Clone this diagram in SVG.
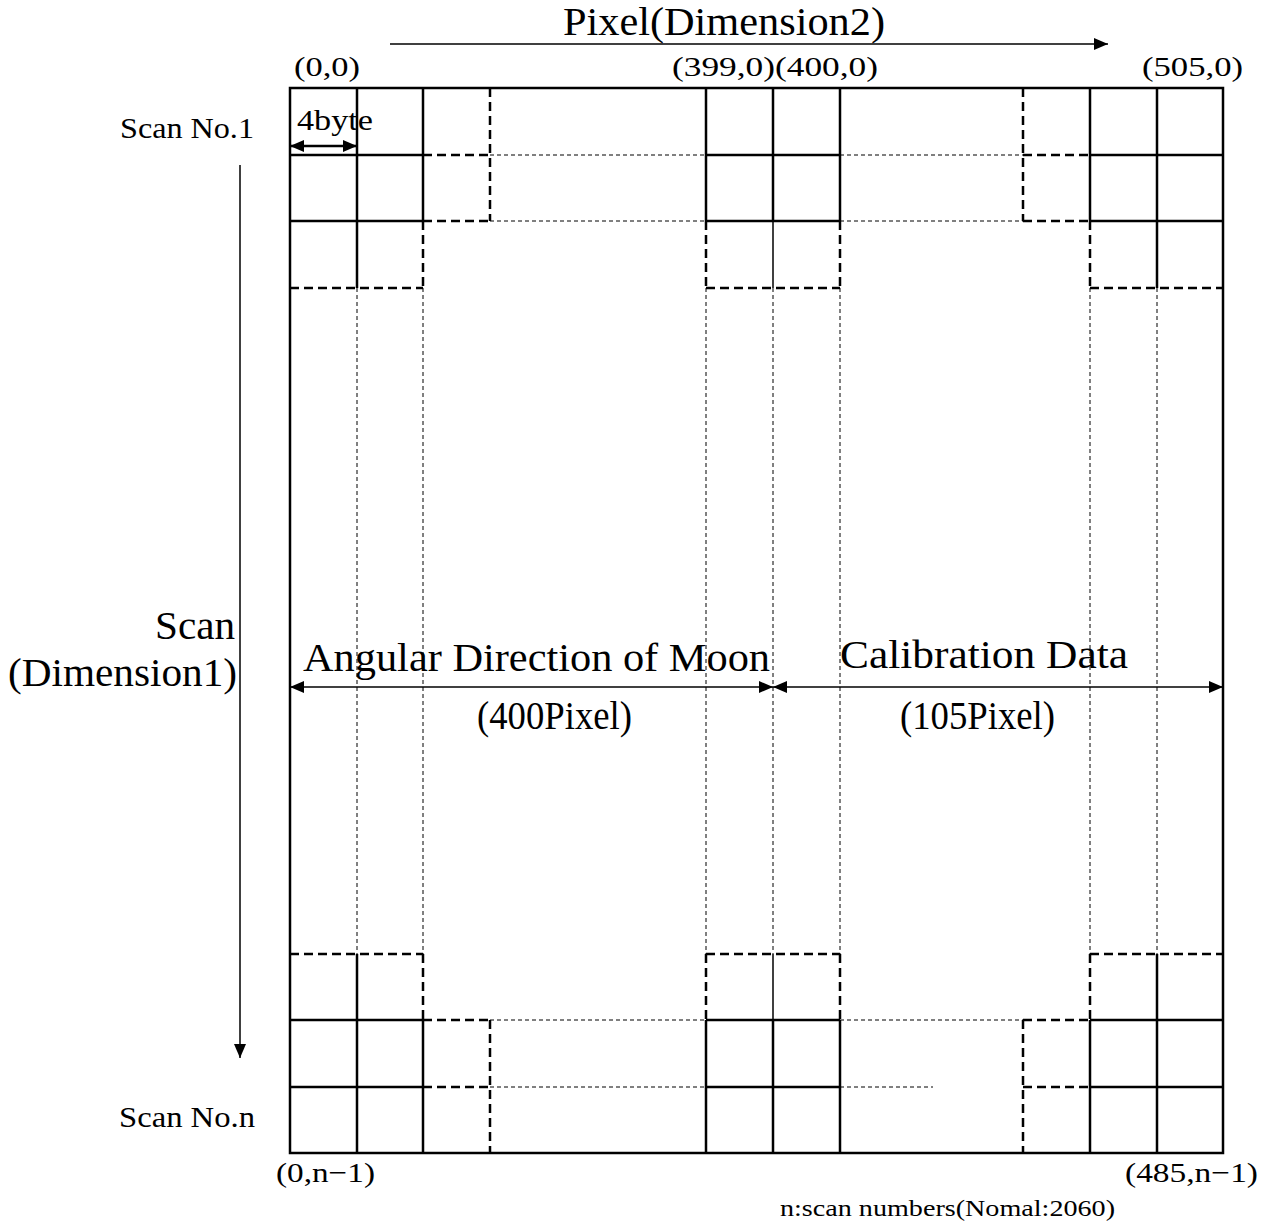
<svg xmlns="http://www.w3.org/2000/svg" width="1271" height="1225" viewBox="0 0 1271 1225">
<style>
.t{font-family:"Liberation Serif","DejaVu Serif",serif;fill:#000}
.big{font-size:41px}
.mid{font-size:28px}
.sm{font-size:29px}
.xs{font-size:24px}
.solid{stroke:#000;stroke-width:2.5;fill:none}
.sthin{stroke:#000;stroke-width:1.5;fill:none}
.dash{stroke:#000;stroke-width:2.5;fill:none;stroke-dasharray:9 5}
.guide{stroke:#000;stroke-width:1;fill:none;stroke-dasharray:4 3}
.arr{stroke:#000;stroke-width:1.5;fill:none}
.arr2{stroke:#000;stroke-width:2.5;fill:none}
</style>
<defs>
<marker id="ah" markerUnits="userSpaceOnUse" markerWidth="14" markerHeight="12" refX="14" refY="6" orient="auto-start-reverse">
<path d="M0,0 L14,6 L0,12 Z" fill="#000"/>
</marker>
</defs>
<rect width="1271" height="1225" fill="#fff"/>

<g id="frame">
<rect x="290" y="88" width="933" height="1065" class="solid"/>
</g>

<g id="guides">
<path class="guide" d="M490,155H706M840,155H1023M490,221H706M840,221H1023M490,1020H706M840,1020H1023M490,1087H706M840,1087H933"/>
<path class="guide" d="M357,288V954M423,288V954M706,288V954M773,288V954M840,288V954M1090,288V954M1157,288V954"/>
</g>

<g id="cells-top-left">
<path class="solid" d="M290,155H423M290,221H423M357,88V288M423,88V221"/>
<path class="dash" d="M423,221V288M290,288H423M490,88V221M423,155H490M423,221H490"/>
</g>

<g id="cells-top-mid">
<path class="solid" d="M706,155H840M706,221H840M706,88V221M773,88V221M840,88V221"/>
<path class="sthin" d="M773,221V288"/>
<path class="dash" d="M706,221V288M840,221V288M706,288H840"/>
</g>

<g id="cells-top-right">
<path class="solid" d="M1090,155H1223M1090,221H1223M1090,88V221M1157,88V288"/>
<path class="dash" d="M1023,88V221M1023,155H1090M1023,221H1090M1090,221V288M1090,288H1223"/>
</g>

<g id="cells-bottom-left">
<path class="solid" d="M290,1020H423M290,1087H423M357,954V1153M423,1020V1153"/>
<path class="dash" d="M290,954H423M423,954V1020M423,1020H490M423,1087H490M490,1020V1153"/>
</g>

<g id="cells-bottom-mid">
<path class="solid" d="M706,1020H840M706,1087H840M706,1020V1153M773,1020V1153M840,1020V1153"/>
<path class="sthin" d="M773,954V1020"/>
<path class="dash" d="M706,954H840M706,954V1020M840,954V1020"/>
</g>

<g id="cells-bottom-right">
<path class="solid" d="M1090,1020H1223M1090,1087H1223M1090,1020V1153M1157,954V1153"/>
<path class="dash" d="M1090,954H1223M1090,954V1020M1023,1020H1090M1023,1087H1090M1023,1020V1153"/>
</g>

<g id="connectors">
<line class="arr" x1="390" y1="44" x2="1108" y2="44" marker-end="url(#ah)"/>
<line class="arr" x1="240" y1="165" x2="240" y2="1058" marker-end="url(#ah)"/>
<line class="arr2" x1="290" y1="146" x2="357" y2="146" marker-start="url(#ah)" marker-end="url(#ah)"/>
<line class="arr" x1="290" y1="687" x2="773" y2="687" marker-start="url(#ah)" marker-end="url(#ah)"/>
<line class="arr" x1="773" y1="687" x2="1223" y2="687" marker-start="url(#ah)" marker-end="url(#ah)"/>
</g>

<g id="labels">
<text class="t big" x="563" y="35" textLength="322" lengthAdjust="spacingAndGlyphs">Pixel(Dimension2)</text>
<text class="t mid" x="294" y="76" textLength="66" lengthAdjust="spacingAndGlyphs">(0,0)</text>
<text class="t mid" x="672" y="76" textLength="206" lengthAdjust="spacingAndGlyphs">(399,0)(400,0)</text>
<text class="t mid" x="1142" y="76" textLength="101" lengthAdjust="spacingAndGlyphs">(505,0)</text>
<text class="t sm" x="120" y="138" textLength="134" lengthAdjust="spacingAndGlyphs">Scan No.1</text>
<text class="t sm" x="297" y="130" textLength="76" lengthAdjust="spacingAndGlyphs">4byte</text>
<text class="t big" x="155" y="639" textLength="80" lengthAdjust="spacingAndGlyphs">Scan</text>
<text class="t big" x="8" y="686" textLength="229" lengthAdjust="spacingAndGlyphs">(Dimension1)</text>
<text class="t big" x="303" y="671" textLength="467" lengthAdjust="spacingAndGlyphs">Angular Direction of Moon</text>
<text class="t big" x="477" y="729" textLength="155" lengthAdjust="spacingAndGlyphs">(400Pixel)</text>
<text class="t big" x="840" y="668" textLength="288" lengthAdjust="spacingAndGlyphs">Calibration Data</text>
<text class="t big" x="900" y="729" textLength="155" lengthAdjust="spacingAndGlyphs">(105Pixel)</text>
<text class="t sm" x="119" y="1127" textLength="136" lengthAdjust="spacingAndGlyphs">Scan No.n</text>
<text class="t mid" x="276" y="1182" textLength="99" lengthAdjust="spacingAndGlyphs">(0,n−1)</text>
<text class="t mid" x="1125" y="1182" textLength="133" lengthAdjust="spacingAndGlyphs">(485,n−1)</text>
<text class="t xs" x="780" y="1216" textLength="335" lengthAdjust="spacingAndGlyphs">n:scan numbers(Nomal:2060)</text>
</g>
</svg>
